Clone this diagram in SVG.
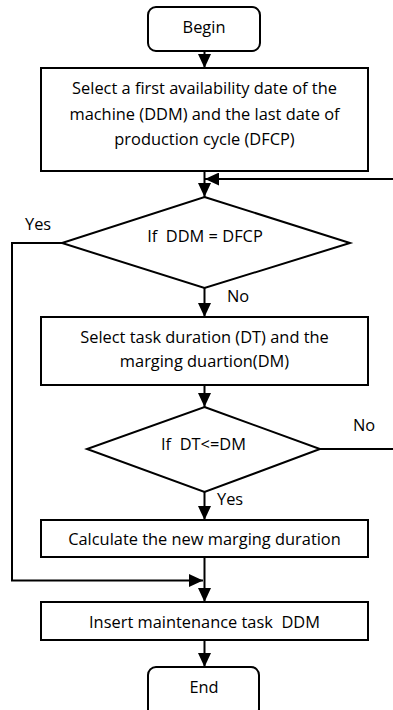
<svg xmlns="http://www.w3.org/2000/svg" width="393" height="710" viewBox="0 0 393 710">
<style>
.shape{fill:#fff;stroke:#000;stroke-width:2}
.conn{fill:none;stroke:#000;stroke-width:2}
text{font-family:"Open Sans","Liberation Sans",sans-serif;font-size:16.4px;fill:#000}
.c{text-anchor:middle}
</style>
<defs>
<marker id="arr" markerUnits="userSpaceOnUse" markerWidth="14" markerHeight="13" refX="14" refY="6.5" orient="auto">
<path d="M0,0 L14,6.5 L0,13 Z" fill="#000"/>
</marker>
</defs>
<rect width="393" height="710" fill="#fff"/>
<g id="connectors">
<line class="conn" x1="204.5" y1="51" x2="204.5" y2="68" marker-end="url(#arr)"/>
<line class="conn" x1="204.5" y1="171" x2="204.5" y2="197" marker-end="url(#arr)"/>
<line class="conn" x1="394" y1="179" x2="205" y2="179" marker-end="url(#arr)"/>
<line class="conn" x1="204.5" y1="288" x2="204.5" y2="317" marker-end="url(#arr)"/>
<line class="conn" x1="204.5" y1="385" x2="204.5" y2="407" marker-end="url(#arr)"/>
<line class="conn" x1="320" y1="449" x2="394" y2="449"/>
<line class="conn" x1="204.5" y1="492" x2="204.5" y2="520" marker-end="url(#arr)"/>
<line class="conn" x1="204.5" y1="557" x2="204.5" y2="602" marker-end="url(#arr)"/>
<polyline class="conn" points="62,243 12,243 12,580.5 203,580.5" marker-end="url(#arr)"/>
<line class="conn" x1="204.5" y1="640" x2="204.5" y2="667" marker-end="url(#arr)"/>
<text x="25" y="230">Yes</text>
<text x="227" y="302">No</text>
<text x="353" y="431">No</text>
<text x="217" y="505">Yes</text>
</g>
<g id="begin">
<rect class="shape" x="148" y="7" width="112" height="44" rx="8"/>
<text class="c" x="204" y="33">Begin</text>
</g>
<g id="select-dates">
<rect class="shape" x="41" y="68" width="327" height="103"/>
<text class="c" x="204.5" y="94">Select a first availability date of the</text>
<text class="c" x="204.5" y="120">machine (DDM) and the last date of</text>
<text class="c" x="204.5" y="145">production cycle (DFCP)</text>
</g>
<g id="if-ddm">
<polygon class="shape" points="204.5,197 350,243 204.5,288 62,243"/>
<text class="c" x="205" y="242" xml:space="preserve">If  DDM = DFCP</text>
</g>
<g id="select-durations">
<rect class="shape" x="41" y="317" width="327" height="68"/>
<text class="c" x="204.5" y="343">Select task duration (DT) and the</text>
<text class="c" x="204.5" y="367">marging duartion(DM)</text>
</g>
<g id="if-dt">
<polygon class="shape" points="204.5,407 320,449 204.5,492 87,449"/>
<text class="c" x="203.5" y="450" xml:space="preserve">If  DT&lt;=DM</text>
</g>
<g id="calculate">
<rect class="shape" x="41" y="520" width="327" height="37"/>
<text class="c" x="204.5" y="545">Calculate the new marging duration</text>
</g>
<g id="insert">
<rect class="shape" x="41" y="602" width="327" height="38"/>
<text class="c" x="204.5" y="628" xml:space="preserve">Insert maintenance task  DDM</text>
</g>
<g id="end">
<rect class="shape" x="148" y="667" width="111" height="50" rx="8"/>
<text class="c" x="204" y="693">End</text>
</g>
</svg>
